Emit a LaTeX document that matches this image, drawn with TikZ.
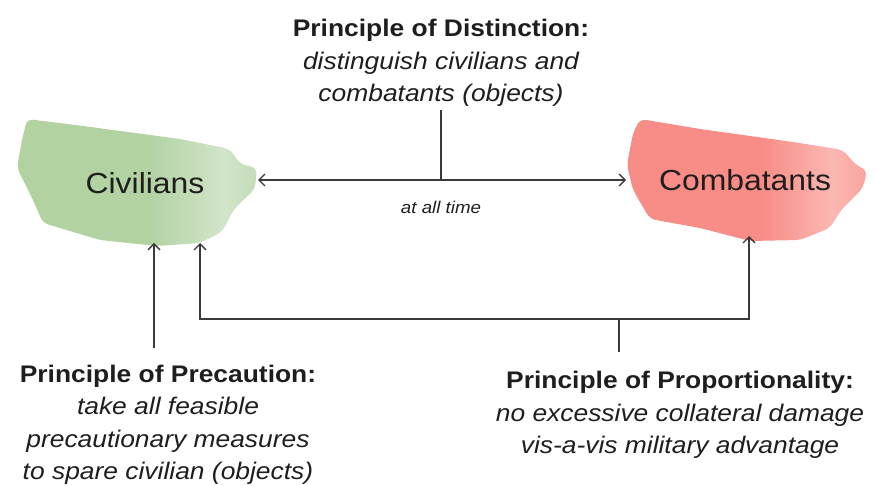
\documentclass[tikz,border=0pt]{standalone}
\usepackage{fontspec}
\setmainfont[FakeStretch=1.1]{Liberation Sans}
\usetikzlibrary{arrows.meta}
\definecolor{civg}{HTML}{B2D2A2}
\definecolor{civl}{HTML}{D2E5C9}
\definecolor{comr}{HTML}{F88C86}
\definecolor{coml}{HTML}{FBB8B3}
\definecolor{ink}{HTML}{1E1E1E}
\definecolor{linec}{HTML}{3A3A3A}
\pgfdeclarehorizontalshading{civshade}{100bp}{color(0bp)=(civg); color(25bp)=(civg); color(52bp)=(civg); color(62bp)=(civl!60!civg); color(68bp)=(civl); color(75bp)=(civl!55!civg); color(100bp)=(civl!55!civg)}
\pgfdeclarehorizontalshading{comshade}{100bp}{color(0bp)=(comr); color(25bp)=(comr); color(53bp)=(comr); color(62bp)=(coml!60!comr); color(68bp)=(coml); color(75bp)=(coml!50!comr); color(100bp)=(coml!50!comr)}
\tikzset{
  heading/.style={align=center, text=ink, font=\fontsize{24}{32.5}\selectfont},
  blobtext/.style={text=ink, font=\fontsize{29}{34}\selectfont},
  smalllabel/.style={text=ink, font=\fontsize{17}{20}\selectfont\itshape},
  conn/.style={draw=linec, line width=1.4pt},
  arr/.style={conn, -{Straight Barb[length=6pt,width=12pt,line width=1.3pt]}},
  darr/.style={conn, {Straight Barb[length=6pt,width=12pt,line width=1.3pt]}-{Straight Barb[length=6pt,width=12pt,line width=1.3pt]}}
}
\begin{document}
\begin{tikzpicture}[x=1pt,y=-1pt]
\useasboundingbox (0,0) rectangle (876,486);
% blobs
\shade[shading=civshade, rounded corners=6pt]
  (27,119) -- (83,126) -- (180,139) -- (230,149) -- (240,164) -- (257,168)
  -- (255,189) -- (234,209) -- (222,232) -- (200,243) -- (157,246)
  -- (100,240) -- (43,223) -- (33,200) -- (17,168) -- (22,140) -- cycle;
\shade[shading=comshade, rounded corners=6pt]
  (640,119) -- (700,129) -- (793,142) -- (843,150) -- (857,166) -- (867,170)
  -- (863,188) -- (841,210) -- (830,228) -- (800,240) -- (750,241)
  -- (700,228) -- (650,219) -- (633,190) -- (627,165) -- (633,133) -- cycle;
% nodes
\node[blobtext] (civ) at (145,183) {Civilians};
\node[blobtext] (com) at (745,180) {Combatants};
\node[heading] (dist) at (441,63) {\textbf{Principle of Distinction:}\\ \itshape distinguish civilians and\\ \itshape combatants (objects)};
\node[heading] (prec) at (168,425) {\textbf{Principle of Precaution:}\\ \itshape take all feasible\\ \itshape precautionary measures\\ \itshape to spare civilian (objects)};
\node[heading] (prop) at (680,415) {\textbf{Principle of Proportionality:}\\ \itshape no excessive collateral damage\\ \itshape vis-a-vis military advantage};
% connection points
\coordinate (civE) at (258,180);
\coordinate (comW) at (626,180);
\coordinate (distB) at (441,110);
\coordinate (distJ) at (441,180);
\coordinate (civB1) at (154,243);
\coordinate (precT) at (154,348);
\coordinate (civB2) at (200,243);
\coordinate (comB) at (749,236);
\coordinate (propT) at (619,352);
\coordinate (propJ) at (619,319);
% connectors
\draw[darr] (civE) -- (comW);
\draw[conn] (distB) -- (distJ);
\node[smalllabel] (always) at (441,207) {at all time};
\draw[arr] (precT) -- (civB1);
\draw[arr] (propJ) -| (civB2);
\draw[arr] (propJ) -| (comB);
\draw[conn] (propT) -- (propJ);
\end{tikzpicture}
\end{document}
